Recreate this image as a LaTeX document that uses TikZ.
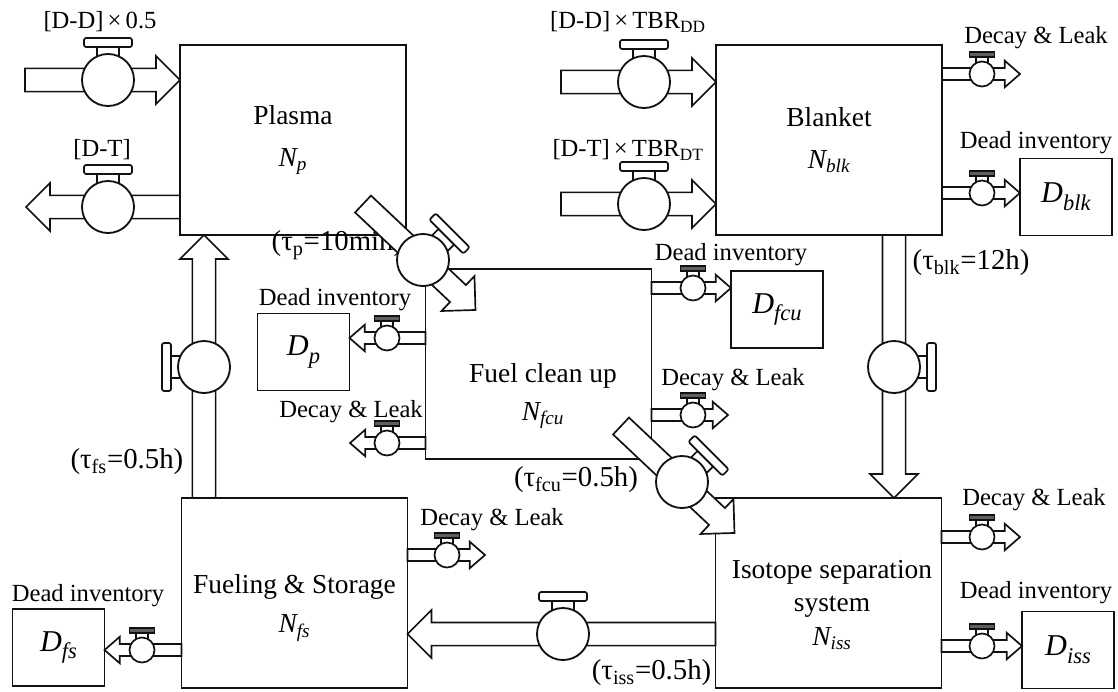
\documentclass[tikz,border=0pt]{standalone}
\usepackage{fontspec}
\setmainfont{Liberation Serif}
\usetikzlibrary{calc}
\definecolor{ink} {HTML}{111111}
\definecolor{knob}{HTML}{5E5E5E}
\newcommand{\boxfont}{\fontsize{19.5}{23}\selectfont}
\newcommand{\lblfont}{\fontsize{17.5}{20}\selectfont}
\newcommand{\taufont}{\fontsize{20.5}{22}\selectfont}
\newcommand{\inv}[1]{\fontsize{21.5}{22}\selectfont\textit{D}\raisebox{-0.55ex}{\fontsize{16}{16}\selectfont\textit{#1}}}
% block arrow: from, tip, half shaft, half head, head length
\newcommand{\blockflow}[5]{%
  \coordinate (pb) at ($(#2)!#5!(#1)$);
  \draw[pipeline] ($(#1)!#3!90:(#2)$) -- ($(pb)!#3!90:(#2)$)
    -- ($(pb)!#4!90:(#2)$) -- (#2) -- ($(pb)!#4!-90:(#2)$)
    -- ($(pb)!#3!-90:(#2)$) -- ($(#1)!#3!-90:(#2)$) -- cycle;}
\newcommand{\bigflow}[2]{\blockflow{#1}{#2}{0.29cm}{0.6cm}{0.6cm}}
\newcommand{\smallflow}[2]{\blockflow{#1}{#2}{0.15cm}{0.33cm}{0.38cm}}
\tikzset{
  unit/.style      ={draw=ink, fill=white, line width=1.3pt,
                     minimum width=5.65cm, minimum height=4.75cm,
                     inner sep=0pt, outer sep=0pt, align=center, font=\boxfont},
  dead/.style      ={draw=ink, fill=white, line width=1.3pt,
                     minimum width=2.3cm, minimum height=1.925cm,
                     inner sep=0pt, outer sep=0pt},
  boxtext/.style   ={align=center, font=\boxfont, inner sep=0pt},
  pipeline/.style  ={draw=ink, fill=white, line width=1.2pt, line join=miter},
  lbl/.style       ={font=\lblfont, inner sep=1pt},
  taulbl/.style    ={font=\taufont, inner sep=1pt},
  bigbody/.style   ={circle, draw=ink, fill=white, line width=1.3pt,
                     minimum size=1.3cm, inner sep=0pt},
  smallbody/.style ={circle, draw=ink, fill=white, line width=1.2pt,
                     minimum size=0.625cm, inner sep=0pt},
  bigvalve/.pic    ={
    \draw[pipeline] (-11,-24) rectangle (11,-33);
    \draw[pipeline, rounded corners=1.5pt] (-24,-33) rectangle (24,-42);
    \node[bigbody] (-c) at (0,0) {};
  },
  smallvalve/.pic  ={
    \draw[pipeline, line width=1.1pt] (-6,-11) rectangle (6,-17);
    \draw[pipeline, line width=1.1pt, fill=knob] (-12.5,-17) rectangle (12.5,-22);
    \node[smallbody] (-c) at (0,0) {};
  },
}

\begin{document}
\begin{tikzpicture}[x=0.025cm,y=-0.025cm]
  \useasboundingbox (0,0) rectangle (1118,691);

  % compartments
  \node[unit] (plasma)  at (293,140)   {Plasma\\[7pt]\textit{N\textsubscript{p}}};
  \node[unit] (blanket) at (829,140)   {Blanket\\[7pt]\textit{N\textsubscript{blk}}};
  \node[unit] (fcu)     at (538.5,364) {};
  \node[unit] (fs)      at (294.5,593) {};
  \node[unit] (iss)     at (828.5,593) {};
  \node[boxtext] (fcutext) at (543,396)   {Fuel clean up\\[4pt]\textit{N\textsubscript{fcu}}};
  \node[boxtext] (fstext)  at (294.5,608) {Fueling \& Storage\\[5pt]\textit{N\textsubscript{fs}}};
  \node[boxtext] (isstext) at (832,605)   {Isotope separation\\[1pt]system\\[1pt]\textit{N\textsubscript{iss}}};

  % dead inventories
  \node[dead] (dp)   at (303.5,352) {\inv{p}};
  \node[dead] (dfcu) at (777,309.5) {\inv{fcu}};
  \node[dead] (dblk) at (1066,197)  {\inv{blk}};
  \node[dead] (diss) at (1068,650)  {\inv{iss}};
  \node[dead] (dfs)  at (58.5,647.5) {\inv{fs}};

  \node[taulbl,anchor=west] (taup) at (270,245) {(τ\textsubscript{p}=10min)};

  % pipe ends
  \coordinate (ddsrc)  at (25,80);
  \coordinate (ddtip)  at ($(plasma.west)+(0,-60)$);
  \coordinate (dtsrc)  at ($(plasma.west)+(0,67)$);
  \coordinate (dttip)  at (26,207);
  \coordinate (bddsrc) at (561,82);
  \coordinate (bddtip) at ($(blanket.west)+(0,-58)$);
  \coordinate (bdtsrc) at (561,204);
  \coordinate (bdttip) at ($(blanket.west)+(0,64)$);
  \coordinate (pfsrc)  at ($(plasma.south east)+(-43,-31)$);
  \coordinate (pftip)  at ($(fcu.north west)+(50,41)$);
  \coordinate (fisrc)  at ($(fcu.south east)+(-30.5,-33)$);
  \coordinate (fitip)  at ($(iss.north west)+(19,35)$);
  \coordinate (bisrc)  at ($(blanket.south)+(65,0)$);
  \coordinate (bitip)  at ($(iss.north)+(65.5,0)$);
  \coordinate (fpsrc)  at ($(fs.north)+(-90.5,0)$);
  \coordinate (fptip)  at ($(plasma.south)+(-89,0)$);
  \coordinate (ifsrc)  at ($(iss.west)+(0,41)$);
  \coordinate (iftip)  at ($(fs.east)+(0,41)$);

  \coordinate (bdlsrc) at ($(blanket.east)+(0,-66)$);
  \coordinate (bdltip) at (1020,74);
  \coordinate (bdisrc) at ($(blanket.east)+(0,53)$);
  \coordinate (bditip) at ($(dblk.west)+(0,-4)$);
  \coordinate (fdisrc) at ($(fcu.east)+(0,-76)$);
  \coordinate (fditip) at ($(dfcu.west)+(0,-21.5)$);
  \coordinate (fdlsrc) at ($(fcu.east)+(0,51)$);
  \coordinate (fdltip) at (728,415);
  \coordinate (pdisrc) at ($(fcu.west)+(0,-26)$);
  \coordinate (pditip) at ($(dp.east)+(0,-14)$);
  \coordinate (pdlsrc) at ($(fcu.west)+(0,79)$);
  \coordinate (pdltip) at (350,443);
  \coordinate (sdlsrc) at ($(fs.east)+(0,-38)$);
  \coordinate (sdltip) at (485,555);
  \coordinate (sdisrc) at ($(fs.west)+(0,57)$);
  \coordinate (sditip) at ($(dfs.east)+(0,2.5)$);
  \coordinate (idlsrc) at ($(iss.east)+(0,-56)$);
  \coordinate (idltip) at (1020,537);
  \coordinate (idisrc) at ($(iss.east)+(0,53)$);
  \coordinate (iditip) at ($(diss.west)+(0,-4)$);

  % main flows
  \bigflow{ddsrc}{ddtip}
  \bigflow{dtsrc}{dttip}
  \bigflow{bddsrc}{bddtip}
  \bigflow{bdtsrc}{bdttip}
  \bigflow{pfsrc}{pftip}
  \bigflow{fisrc}{fitip}
  \bigflow{bisrc}{bitip}
  \bigflow{fpsrc}{fptip}
  \bigflow{ifsrc}{iftip}
  % losses
  \smallflow{bdlsrc}{bdltip}
  \smallflow{bdisrc}{bditip}
  \smallflow{fdisrc}{fditip}
  \smallflow{fdlsrc}{fdltip}
  \smallflow{pdisrc}{pditip}
  \smallflow{pdlsrc}{pdltip}
  \smallflow{sdlsrc}{sdltip}
  \smallflow{sdisrc}{sditip}
  \smallflow{idlsrc}{idltip}
  \smallflow{idisrc}{iditip}

  % valves
  \pic (vdd)  at (108,80)  {bigvalve};
  \pic (vdt)  at (108,207) {bigvalve};
  \pic (vbdd) at (644,82)  {bigvalve};
  \pic (vbdt) at (644,204) {bigvalve};
  \pic[rotate=-45] (vpf) at (423,260) {bigvalve};
  \pic[rotate=-45] (vfi) at (682,482) {bigvalve};
  \pic[rotate=-90] (vbi) at (894,367) {bigvalve};
  \pic[rotate=90]  (vfp) at (204,367) {bigvalve};
  \pic (vif)  at (563,634) {bigvalve};

  \pic (vbdl) at (982,74)  {smallvalve};
  \pic (vbdi) at (982,193) {smallvalve};
  \pic (vfdi) at (693,288) {smallvalve};
  \pic (vfdl) at (693,415) {smallvalve};
  \pic (vpdi) at (387,338) {smallvalve};
  \pic (vpdl) at (387,443) {smallvalve};
  \pic (vsdl) at (447,555) {smallvalve};
  \pic (vsdi) at (142,650) {smallvalve};
  \pic (vidl) at (982,537) {smallvalve};
  \pic (vidi) at (982,646) {smallvalve};

  % labels
  \node[lbl] (ddlbl)  at (100,22)  {[D-D]\,×\,0.5};
  \node[lbl] (dtlbl)  at (102,150) {[D-T]};
  \node[lbl] (bddlbl) at (628,22)  {[D-D]\,×\,TBR\textsubscript{DD}};
  \node[lbl] (bdtlbl) at (628,150) {[D-T]\,×\,TBR\textsubscript{DT}};

  \node[lbl] (bdl) at (1036,38)  {Decay \& Leak};
  \node[lbl] (fdl) at (733,380)  {Decay \& Leak};
  \node[lbl] (pdl) at (351,412)  {Decay \& Leak};
  \node[lbl] (sdl) at (492,520)  {Decay \& Leak};
  \node[lbl] (idl) at (1034,500) {Decay \& Leak};

  \node[lbl] (bdi) at (1036,143) {Dead inventory};
  \node[lbl] (fdi) at (731,255)  {Dead inventory};
  \node[lbl] (pdi) at (335,300)  {Dead inventory};
  \node[lbl] (sdi) at (88,596)   {Dead inventory};
  \node[lbl] (idi) at (1036,593) {Dead inventory};

  \node[taulbl] (taufcu) at (576,480) {(τ\textsubscript{fcu}=0.5h)};
  \node[taulbl,anchor=east] (taufs)  at (185,462) {(τ\textsubscript{fs}=0.5h)};
  \node[taulbl,anchor=west] (taublk) at (911,263) {(τ\textsubscript{blk}=12h)};
  \node[taulbl,anchor=east] (tauiss) at (713,673) {(τ\textsubscript{iss}=0.5h)};
\end{tikzpicture}
\end{document}
